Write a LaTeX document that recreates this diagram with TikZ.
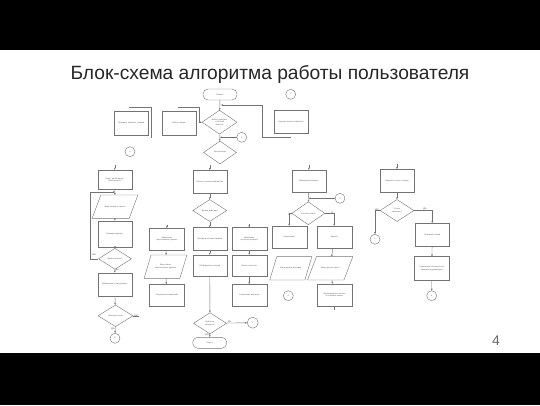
\documentclass[tikz,border=0pt]{standalone}
\usepackage{fontspec}
\setmainfont{Liberation Sans}
\usetikzlibrary{shapes.geometric,arrows.meta}
\newcommand{\mypara}[6]{%
  \node[pbody, minimum width=#4pt] (#1) at (#2,#3) {#6};
  \draw[ln] ([xshift=-#5pt]#1.south west) -- ([xshift=-#5pt]#1.south east) -- ([xshift=#5pt]#1.north east) -- ([xshift=#5pt]#1.north west) -- cycle;
}
\begin{document}
\begin{tikzpicture}[x=1pt,y=-1pt,
  txt/.style={text=black!65, font=\fontsize{2}{2.4}\selectfont, align=center, inner sep=0pt},
  ln/.style={draw=black!55, line width=0.4pt},
  ar/.style={ln, -{Stealth[length=2.2pt,width=1.8pt]}},
  boxn/.style={txt, ln, rectangle, minimum width=34pt, minimum height=22pt, text width=28pt},
  decn/.style={txt, ln, diamond, aspect=1.6, minimum width=34pt, minimum height=22pt, text width=16pt},
  termn/.style={txt, ln, rectangle, rounded corners=5pt, minimum width=34pt, minimum height=11pt},
  conn/.style={txt, ln, circle, minimum size=10pt},
  pbody/.style={txt, minimum height=23pt, text width=26pt},
  lab/.style={txt, font=\fontsize{2.5}{3}\selectfont}
]
\useasboundingbox (0,0) rectangle (540,405);
\fill[black] (0,0) rectangle (540,50);
\fill[black] (0,353) rectangle (540,405);
\node[anchor=base, text=black!85, font=\fontsize{19.2}{23}\selectfont, inner sep=0pt] (title) at (270,79.3) {Блок-схема алгоритма работы пользователя};
\node[anchor=base, text=black!60, font=\fontsize{14}{16}\selectfont, inner sep=0pt] (page) at (496,345) {4};

% ---------- top part
\node[termn] (start) at (220,94.5) {Начало};
\node[conn] (c0) at (290.7,94.3) {1};
\node[decn, minimum width=35pt, minimum height=24pt] (d1) at (219.5,122.2) {Выбор действия с учётной записью};
\node[boxn, minimum height=23.5pt] (b1) at (131.2,123.3) {Просмотр каталога товаров};
\node[boxn, minimum height=24pt] (b2) at (179,123) {Выбор товара};
\node[boxn, minimum height=23pt] (b3) at (291,121.7) {Загрузка личного кабинета};
\node[conn] (c1) at (241.7,137.3) {2};
\node[conn] (c2) at (130,151.7) {3};
\node[decn, minimum width=33pt, minimum height=23pt] (d2) at (220,152.5) {Авторизация};

\draw[ar] (start) -- (d1);
\draw[ar] ([yshift=-3.4pt]b3.south) -| (262,105) -- (221,105);
\draw[ln] ([xshift=-2pt,yshift=4pt]b1.north) -| (151,137.7);
\draw[ar] ([xshift=-0.7pt,yshift=3.3pt]b2.north) -| (199.5,122.2) -- (d1.west);
\draw[ar] (d1) -- (d2);
\draw[ar] (c1.west) -- (220,137.3);

% ---------- column 1
\node[boxn, minimum height=19.5pt] (k1) at (114.7,179.7) {Вход / регистрация пользователя};
\mypara{k2}{115}{206.7}{36.7}{4.35}{Ввод логина и пароля}
\node[boxn, minimum height=26pt] (k3) at (114.7,233.7) {Проверка данных};
\node[decn, minimum width=33pt, minimum height=21pt] (k4) at (115,258.8) {Данные верны?};
\node[boxn, minimum height=23pt] (k5) at (114.7,284.3) {Добавление в базу данных};
\node[decn, minimum width=35pt, minimum height=21.7pt] (k6) at (115.5,315.8) {Повторить вход};
\node[conn] (kc) at (115,338.3) {4};
\coordinate (k6e) at (139,315.8);

\draw[ar] ([yshift=5pt]k1.north) -- (k1.north);
\draw[ar] (k1) -- (k2);
\draw[ar] (k2) -- (k3);
\draw[ar] (k3) -- (k4);
\draw[ar] (k4) -- node[lab, right, pos=0.3, xshift=0.5pt] {Да} (k5);
\draw[ar] (k5) -- (k6);
\draw[ar] (k6) -- node[lab, left, pos=0.4, xshift=-0.5pt] {Да} (kc);
\draw[ln] (k6.east) -- node[lab, above, yshift=-0.5pt] {Нет} (k6e);
\draw[ar] (k4.west) -| (90,192) -- (115,192);
\node[lab] (k4n) at (94,255) {Нет};

% ---------- column 2
\node[boxn, minimum height=23pt] (m1) at (209.7,181.7) {Работа с личным кабинетом};
\node[decn] (m2) at (209.7,210.5) {Выбор действия};
\node[boxn, minimum width=35pt, minimum height=21.7pt] (a1) at (166.8,239.2) {Изменение персональных данных};
\mypara{a2}{165.5}{266.7}{35.4}{3.5}{Ввод новых персональных данных}
\node[boxn, minimum width=35pt, minimum height=21.7pt] (a3) at (166.8,295.2) {Сохранение изменений};
\node[boxn, minimum height=22.3pt] (bb1) at (209.7,238.8) {Просмотр истории заказов};
\node[boxn, minimum height=21.7pt] (bb2) at (209.7,265.8) {Отображение истории};
\node[boxn, minimum width=35pt, minimum height=22.3pt] (cc1) at (249.2,238.8) {Изменение настроек профиля};
\node[boxn, minimum width=35pt, minimum height=21.7pt] (cc2) at (249.2,265.8) {Выбор настроек};
\node[boxn, minimum width=35pt, minimum height=21.7pt] (cc3) at (249.2,295.2) {Сохранение настроек};
\node[decn, minimum width=33pt, minimum height=21.3pt] (fin) at (210,323.3) {Выйти из кабинета?};
\node[conn, minimum size=11pt] (fcc) at (252.7,322.7) {5};
\node[termn] (stop) at (209.7,342.8) {Конец};

\draw[ar] ([yshift=5pt]m1.north) -- (m1.north);
\draw[ar] (m1) -- (m2);
\draw[ar] (m2) -- (bb1);
\draw[ar] ([yshift=3pt]a1.north) -- (a1.north);
\draw[ar] ([yshift=3pt]cc1.north) -- (cc1.north);
\draw[ar] (a1) -- (a2);
\draw[ar] (a2) -- (a3);
\draw[ar] (bb1) -- (bb2);
\draw[ar] (bb2) -- (fin);
\draw[ar] (cc1) -- (cc2);
\draw[ar] (cc2) -- (cc3);
\draw[ar] (fin) -- node[lab, above, pos=0.15] {Да} (fcc);
\draw[ar] (fin) -- node[lab, left, pos=0.3] {Нет} (stop);

% ---------- column 3
\node[boxn, minimum height=22.7pt] (n1) at (308.8,181.3) {Оформление заказа};
\node[decn, minimum width=33pt, minimum height=23pt] (n2) at (308.3,213.3) {Способ оплаты};
\node[conn] (nc) at (340,198.3) {2};
\node[boxn, minimum width=35pt, minimum height=22.3pt] (nL) at (289.2,237.2) {Наличными};
\node[boxn, minimum width=35pt, minimum height=22.3pt] (nR) at (334.2,237.2) {Картой};
\mypara{nLp}{290.8}{268.3}{34.7}{3.5}{Ввод адреса доставки}
\mypara{nRp}{330.2}{268.3}{36}{4.5}{Ввод данных карты}
\node[boxn, minimum width=35pt, minimum height=22.7pt] (nR3) at (334.2,295.3) {Подтверждение оплаты и отправка заказа};
\node[conn] (nLc) at (288.3,295.7) {4};
\coordinate (nRe) at (334.2,309.5);

\draw[ar] ([yshift=5pt]n1.north) -- (n1.north);
\draw[ar] (n1) -- (n2);
\draw[ar] (nc.west) -- (308.5,198.3);
\draw[ar] (n2.west) -| node[lab, above, pos=0.6] {Н} (nL.north);
\draw[ar] (n2.east) -| node[lab, above, pos=0.4] {К} (nR.north);
\draw[ar] (nR) -- (nRp);
\draw[ar] (nRp) -- (nR3);
\draw[ln] (nR3.south) -- (nRe);

% ---------- column 4
\node[boxn, minimum height=23.3pt] (p1) at (397,181) {Написать отзыв о товаре};
\node[decn] (p2) at (397,210.5) {Отзыв заполнен?};
\node[conn] (pc1) at (375,239.3) {1};
\node[boxn, minimum height=23.3pt] (p3) at (432.2,235) {Отправка отзыва};
\node[boxn, minimum width=35pt, minimum height=23.3pt] (p4) at (431.8,268.3) {Публикация отзыва после проверки модератором};
\node[conn] (pc2) at (431.7,295.7) {4};

\draw[ar] ([yshift=5pt]p1.north) -- (p1.north);
\draw[ar] (p1) -- (p2);
\draw[ar] (p2.west) -| node[lab, above, pos=0.3] {Нет} (pc1.north);
\draw[ar] (p2.east) -| node[lab, above, pos=0.3] {Да} (p3.north);
\draw[ar] (p3) -- (p4);
\draw[ar] (p4) -- (pc2);
\end{tikzpicture}
\end{document}
